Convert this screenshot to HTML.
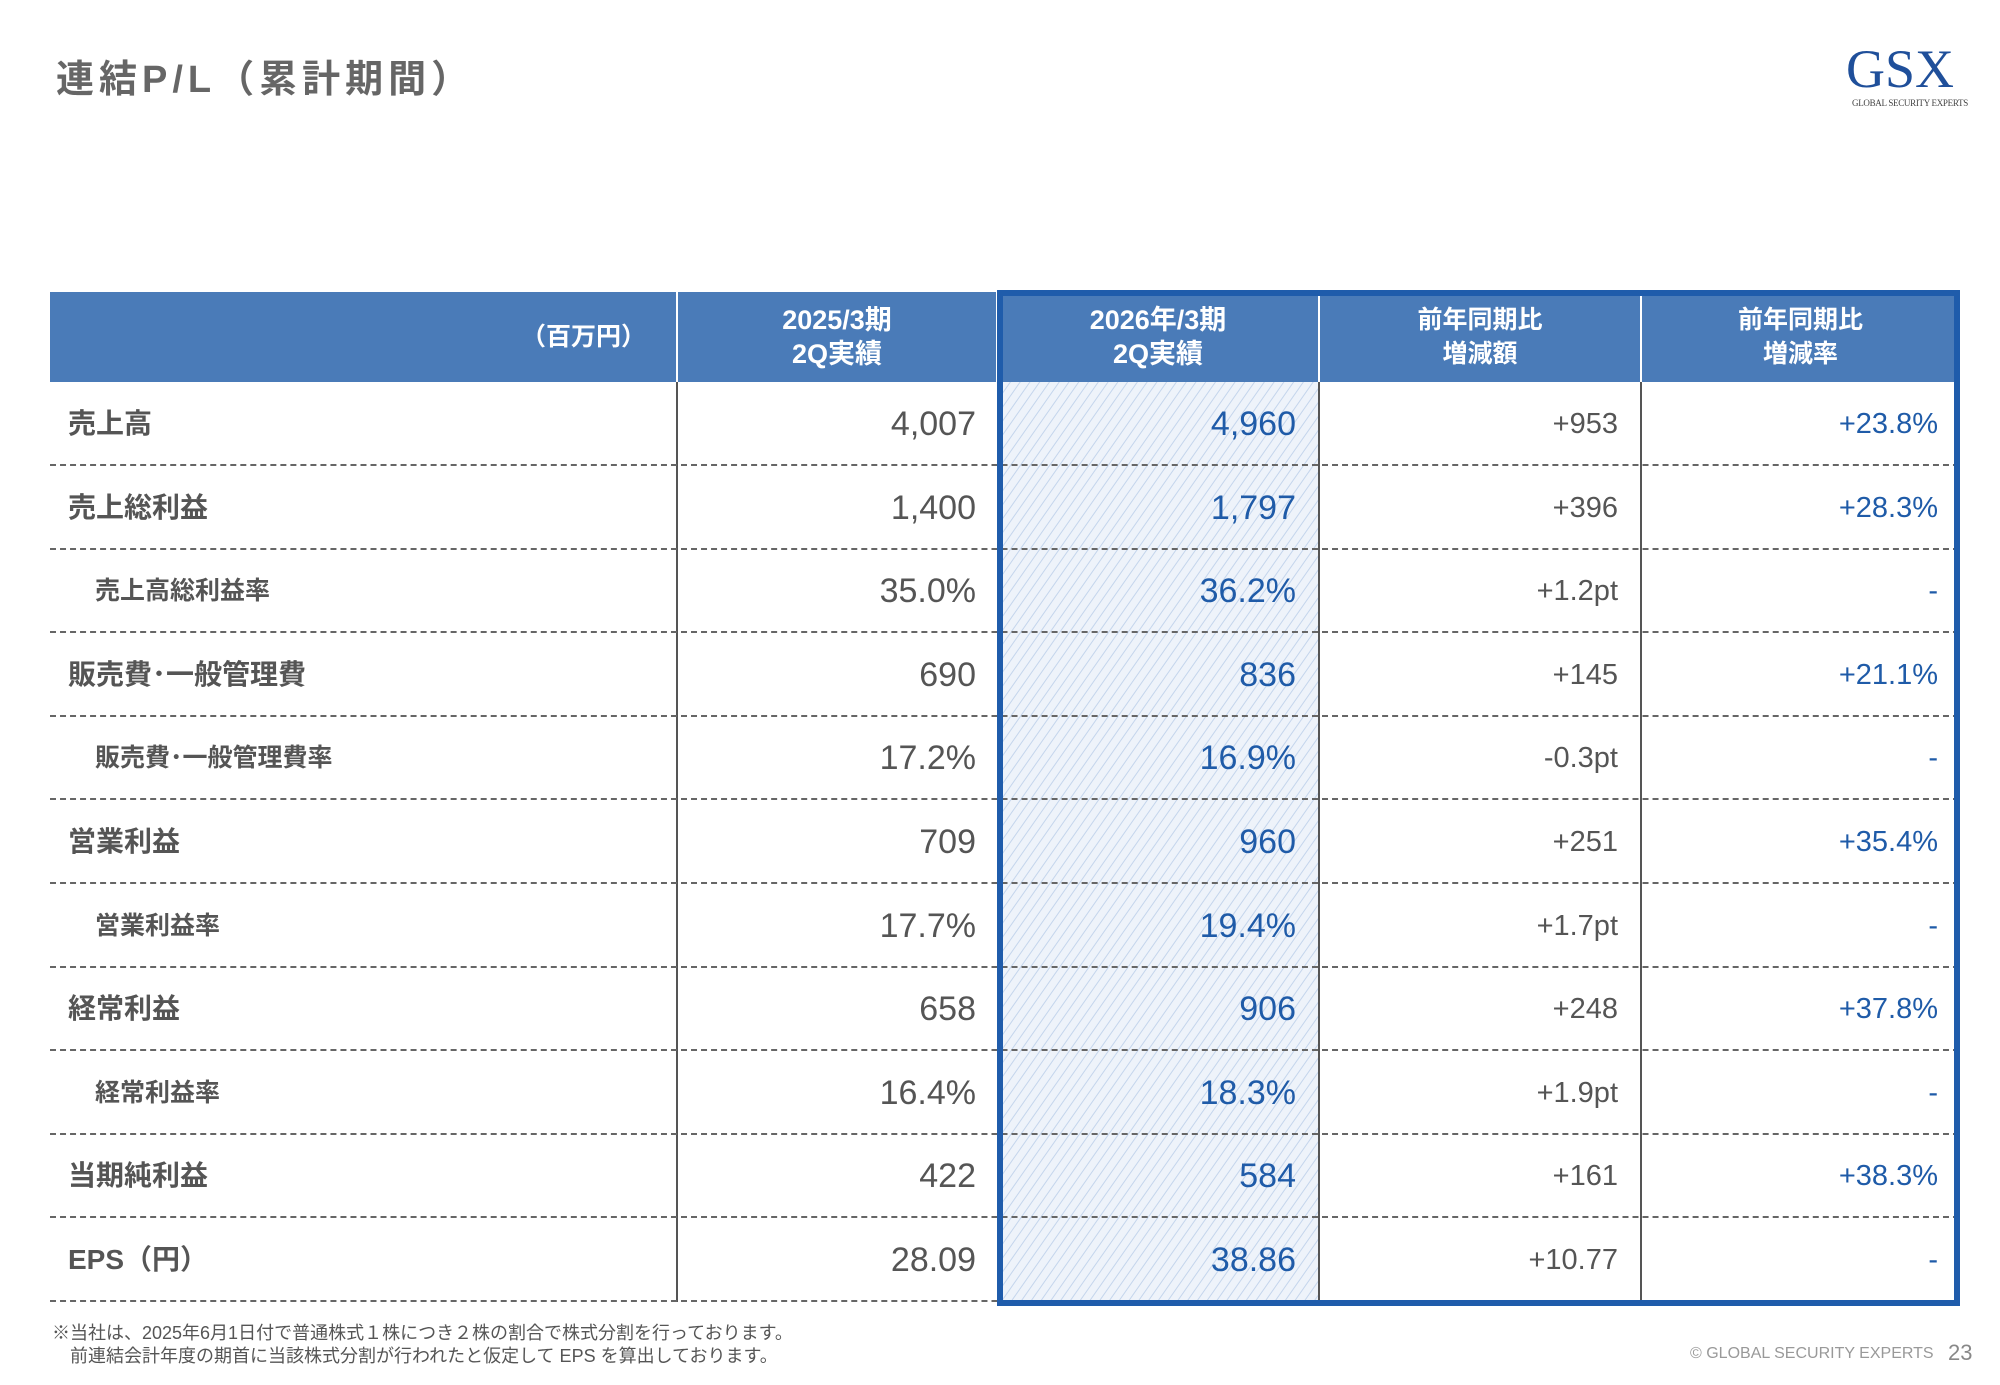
<!DOCTYPE html>
<html><head><meta charset="utf-8"><style>
*{margin:0;padding:0;box-sizing:border-box}
body{width:2000px;height:1385px;background:#fff;position:relative;overflow:hidden;font-family:"Liberation Sans","Noto Sans CJK JP",sans-serif;color:#555}
.a{position:absolute;white-space:nowrap}
.hdr{position:absolute;top:292px;height:90px;background:#4a7bb8;color:#fff;font-size:27px;font-weight:bold;text-align:center;line-height:34px;display:flex;align-items:center;justify-content:center}
.row{position:absolute;left:50px;width:1909px;height:84px;border-bottom:2px dashed #666}
.lab{position:absolute;font-size:28px;font-weight:bold;color:#555;line-height:84px}
.sub{font-size:25px}
.n{position:absolute;font-size:34px;line-height:84px;text-align:right;top:0}
</style></head><body>
<div class="a" style="left:56px;top:48px;font-size:38px;font-weight:bold;color:#666;letter-spacing:5px">連結P/L（累計期間）</div>
<div class="a" style="left:1846px;top:38px;font-family:'Liberation Serif',serif;font-size:54px;color:#1f4f9a">GSX</div>
<div class="a" style="left:1852px;top:98px;font-family:'Liberation Serif',serif;font-size:9px;color:#444;letter-spacing:-0.3px">GLOBAL SECURITY EXPERTS</div>

<svg class="a" style="left:1000px;top:382px" width="319" height="920"><defs><pattern id="h" width="8" height="8" patternUnits="userSpaceOnUse" patternTransform="rotate(35)"><rect width="8" height="8" fill="#eef3fa"/><line x1="0" y1="0" x2="0" y2="8" stroke="#c4d5ec" stroke-width="2"/></pattern></defs><rect width="319" height="920" fill="url(#h)"/></svg>

<div class="hdr" style="left:50px;width:626px;justify-content:flex-end;padding-right:30px;font-size:25px">（百万円）</div>
<div class="hdr" style="left:678px;width:318px">2025/3期<br>2Q実績</div>
<div class="hdr" style="left:998px;width:320px">2026年/3期<br>2Q実績</div>
<div class="hdr" style="left:1320px;width:320px;font-size:25px">前年同期比<br>増減額</div>
<div class="hdr" style="left:1642px;width:317px;font-size:25px">前年同期比<br>増減率</div>

<div class="a" style="left:676px;top:382px;width:2px;height:920px;background:#555"></div>
<div class="a" style="left:1318px;top:382px;width:2px;height:920px;background:#555"></div>
<div class="a" style="left:1640px;top:382px;width:2px;height:920px;background:#555"></div>

<div id="rows"></div>
<script>
var d=[["売上高",0,"4,007","4,960","+953","+23.8%"],["売上総利益",0,"1,400","1,797","+396","+28.3%"],["売上高総利益率",1,"35.0%","36.2%","+1.2pt","-"],["販売費･一般管理費",0,"690","836","+145","+21.1%"],["販売費･一般管理費率",1,"17.2%","16.9%","-0.3pt","-"],["営業利益",0,"709","960","+251","+35.4%"],["営業利益率",1,"17.7%","19.4%","+1.7pt","-"],["経常利益",0,"658","906","+248","+37.8%"],["経常利益率",1,"16.4%","18.3%","+1.9pt","-"],["当期純利益",0,"422","584","+161","+38.3%"],["EPS（円）",0,"28.09","38.86","+10.77","-"]];
var h="";
for(var i=0;i<d.length;i++){var r=d[i],t=382+i*83.6;
h+='<div class="row" style="top:'+t+'px"><div class="lab'+(r[1]?' sub':'')+'" style="left:'+(r[1]?45:18)+'px">'+r[0]+'</div>'+
'<div class="n" style="right:983px;color:#555">'+r[2]+'</div>'+
'<div class="n" style="right:663px;color:#1f5ba8">'+r[3]+'</div>'+
'<div class="n" style="right:341px;color:#555;font-size:29px">'+r[4]+'</div>'+
'<div class="n" style="right:21px;color:#1f5ba8;font-size:29px">'+r[5]+'</div></div>';}
document.getElementById("rows").innerHTML=h;
</script>
<div class="a" style="left:997px;top:290px;width:963px;height:1016px;border:6px solid #1f5cab"></div>

<div class="a" style="left:52px;top:1322px;font-size:18px;color:#555;line-height:23px">※当社は、2025年6月1日付で普通株式１株につき２株の割合で株式分割を行っております。<br>　前連結会計年度の期首に当該株式分割が行われたと仮定して EPS を算出しております。</div>
<div class="a" style="left:1690px;top:1345px;font-size:16px;color:#999">© GLOBAL SECURITY EXPERTS</div>
<div class="a" style="left:1948px;top:1340px;font-size:22px;color:#888">23</div>
</body></html>
